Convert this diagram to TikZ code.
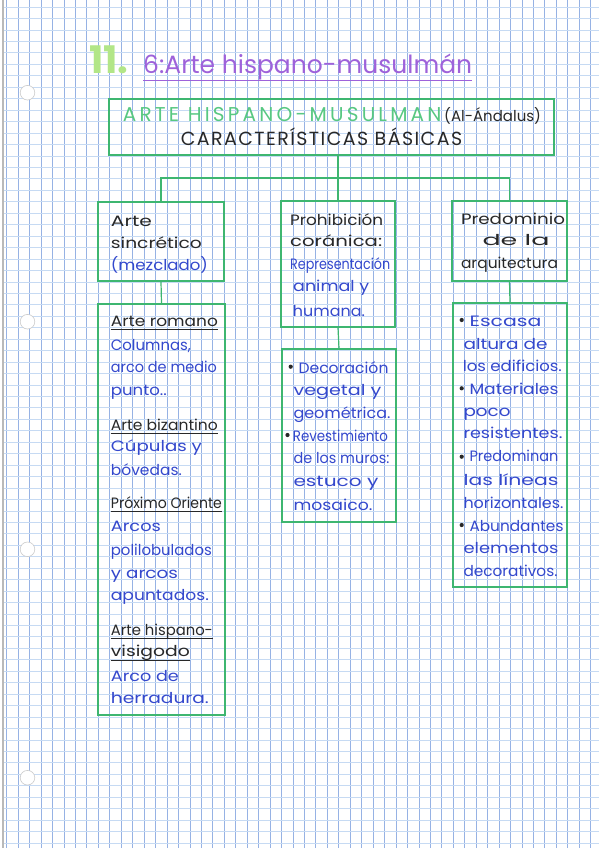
\documentclass[tikz,border=0pt]{standalone}
\usepackage{graphicx}
\usepackage{fontspec}
\setmainfont{Poppins}
\newfontfamily\spacedA[LetterSpace=16]{Poppins}
\newfontfamily\spacedB[LetterSpace=7.5]{Poppins}
\newcommand{\fitto}[2]{\resizebox{#1pt}{\height}{#2}}
\usetikzlibrary{calc}
\definecolor{boxgreen}{RGB}{62,182,112}
\definecolor{ink}{RGB}{52,72,205}
\definecolor{pencil}{RGB}{40,40,40}
\definecolor{titlepurple}{RGB}{158,98,218}
\definecolor{lightgreen}{RGB}{178,230,135}
\definecolor{headgreen}{RGB}{88,200,130}
\definecolor{gridv}{RGB}{150,178,228}
\definecolor{gridh}{RGB}{198,218,243}
\begin{document}
\begin{tikzpicture}[x=1pt,y=-1pt,
  box/.style={draw=boxgreen, line width=1.2pt, inner sep=0pt},
  link/.style={draw=boxgreen, line width=1.2pt},
  txt/.style={anchor=base west, inner sep=0pt, font=\fontsize{15}{18}\selectfont},
  blk/.style={txt, text=pencil},
  blu/.style={txt, text=ink},
  ulline/.style={draw=pencil, line width=0.9pt},
  bullet/.style={fill=pencil},
]
\useasboundingbox[fill=white] (0,0) rectangle (599,848);
% grid paper
\foreach \i in {0,...,51} { \draw[gridv, line width=0.6pt] ({6.6+11.45*\i},0) -- ({6.6+11.45*\i},848); }
\foreach \j in {0,...,73} { \draw[gridh, line width=0.6pt] (3,{7+11.45*\j}) -- (599,{7+11.45*\j}); }
\draw[gray!55, line width=1.5pt] (3,0) -- (3,848);
\foreach \y in {92.7,321.7,549.3,777.7} { \draw[fill=white, draw=gray!40, line width=0.6pt] (27.5,\y) circle (7.3); }

% title
\node[anchor=base west, inner sep=0pt, text=lightgreen, font=\fontsize{38}{40}\selectfont\bfseries] (num) at (89,73.3) {11.};
\node[anchor=base west, inner sep=0pt, text=titlepurple, font=\fontsize{25}{28}\selectfont] (title) at (143,73.3) {6:Arte hispano-musulmán};
\draw[titlepurple, line width=0.9pt] ([yshift=-7.4pt]title.base west) -- ([yshift=-7.4pt]title.base east);

% main box
\node[box, minimum width=445, minimum height=56] (main) at (331.5,127) {};
\node[anchor=base west, inner sep=0pt, text=headgreen, font=\fontsize{20}{22}\spacedA] (h1) at (122.7,121.7) {ARTE HISPANO-MUSULMAN};
\node[anchor=base west, inner sep=0pt, text=pencil, font=\fontsize{15}{16}\selectfont] (h1b) at (444,121.7) {(Al-Ándalus)};
\node[anchor=base, inner sep=0pt, text=pencil, font=\fontsize{19}{20}\spacedB] (h2) at (321.5,145) {CARACTERÍSTICAS BÁSICAS};

% boxes
\node[box, minimum width=126, minimum height=79] (A) at (161,241.5) {};
\node[box, minimum width=114, minimum height=126] (B) at (338,264) {};
\node[box, minimum width=115, minimum height=80] (C) at (509.5,241) {};
\node[box, minimum width=127, minimum height=411] (A2) at (161.5,509.5) {};
\node[box, minimum width=114, minimum height=173] (B2) at (339,435.5) {};
\node[box, minimum width=114, minimum height=284] (C2) at (510,445) {};

% connectors
\coordinate (bus) at (337,178);
\draw[link] (B.north |- main.south) -- (B.north);
\draw[link] (A.north) |- (bus) -| (C.north);
\draw[link] (A.south) -- (A2.north);
\draw[link] (B.south) -- (B2.north);
\draw[link] (C.south) -- (C2.north);

% box A
\node[blk] (a1) at (110.7,226.7) {\fitto{41}{Arte}};
\node[blk] (a2) at (110.7,248) {\fitto{91}{sincrético}};
\node[blu] (a3) at (110.7,270) {\fitto{97}{(mezclado)}};
% box B
\node[blk] (b1) at (290,225) {\fitto{93}{Prohibición}};
\node[blk] (b2) at (290,246.7) {\fitto{92}{coránica:}};
\node[blu] (b3) at (290,269) {\fitto{100}{Representación}};
\node[blu] (b4) at (293,291.7) {\fitto{76}{animal y}};
\node[blu] (b5) at (292.7,316) {\fitto{72}{humana.}};
% box C
\node[blk, anchor=base] (c1) at (513,224) {\fitto{104}{Predominio}};
\node[blk, anchor=base] (c2) at (516,245) {\fitto{67}{de la}};
\node[blk, anchor=base] (c3) at (509.5,268) {\fitto{97}{arquitectura}};

% box A2
\node[blk] (r1) at (110.7,326) {\fitto{107}{Arte romano}};
\node[blu] (r2) at (110.7,350) {\fitto{80}{Columnas,}};
\node[blu] (r3) at (110.7,372.7) {\fitto{106}{arco de medio}};
\node[blu] (r4) at (110.7,395) {\fitto{56}{punto..}};
\node[blk] (z1) at (110.7,430) {\fitto{107}{Arte bizantino}};
\node[blu] (z2) at (110.7,451.7) {\fitto{91}{Cúpulas y}};
\node[blu] (z3) at (110.7,475) {\fitto{71}{bóvedas.}};
\node[blk] (o1) at (110.7,508.3) {\fitto{111}{Próximo Oriente}};
\node[blu] (o2) at (110.7,531.7) {\fitto{50}{Arcos}};
\node[blu] (o3) at (110.7,555) {\fitto{101}{polilobulados}};
\node[blu] (o4) at (110.7,578) {\fitto{67}{y arcos}};
\node[blu] (o5) at (110.7,600) {\fitto{98}{apuntados.}};
\node[blk] (v1) at (110.7,635) {\fitto{102}{Arte hispano-}};
\node[blk] (v2) at (110.7,656.7) {\fitto{79}{visigodo}};
\node[blu] (v3) at (110.7,681.7) {\fitto{68}{Arco de}};
\node[blu] (v4) at (110.7,703.3) {\fitto{98}{herradura.}};
\foreach \n in {r1,z1,o1,v1,v2} { \draw[ulline] ([yshift=-3.5pt]\n.base west) -- ([yshift=-3.5pt]\n.base east); }

% box B2
\fill[bullet] (290.7,366.7) circle (2.1);
\node[blu] (d1) at (298.3,373.3) {\fitto{90}{Decoración}};
\node[blu] (d2) at (293.3,395) {\fitto{88}{vegetal y}};
\node[blu] (d3) at (293.3,418.3) {\fitto{97}{geométrica.}};
\fill[bullet] (287.5,435) circle (2.1);
\node[blu] (d4) at (292.7,441) {\fitto{95}{Revestimiento}};
\node[blu] (d5) at (293.3,463.3) {\fitto{96}{de los muros:}};
\node[blu] (d6) at (293.3,486.7) {\fitto{85}{estuco y}};
\node[blu] (d7) at (293.3,510) {\fitto{79}{mosaico.}};

% box C2
\fill[bullet] (461.7,320) circle (2.1);
\node[blu] (e1) at (469.3,326.7) {\fitto{72}{Escasa}};
\node[blu] (e2) at (463.3,349.3) {\fitto{84}{altura de}};
\node[blu] (e3) at (462.7,371.7) {\fitto{99}{los edificios.}};
\fill[bullet] (461.7,388.3) circle (2.1);
\node[blu] (e4) at (469.3,394) {\fitto{89}{Materiales}};
\node[blu] (e5) at (463.3,416) {\fitto{47}{poco}};
\node[blu] (e6) at (463.3,438.3) {\fitto{99}{resistentes.}};
\fill[bullet] (461.7,456.7) circle (2.1);
\node[blu] (e7) at (469.3,461.7) {\fitto{89}{Predominan}};
\node[blu] (e8) at (463.3,485) {\fitto{95}{las líneas}};
\node[blu] (e9) at (463.3,508.3) {\fitto{100}{horizontales.}};
\fill[bullet] (461.7,525) circle (2.1);
\node[blu] (e10) at (469.3,531.7) {\fitto{94}{Abundantes}};
\node[blu] (e11) at (463.3,553.3) {\fitto{95}{elementos}};
\node[blu] (e12) at (463.3,576.7) {\fitto{94}{decorativos.}};
\end{tikzpicture}
\end{document}
